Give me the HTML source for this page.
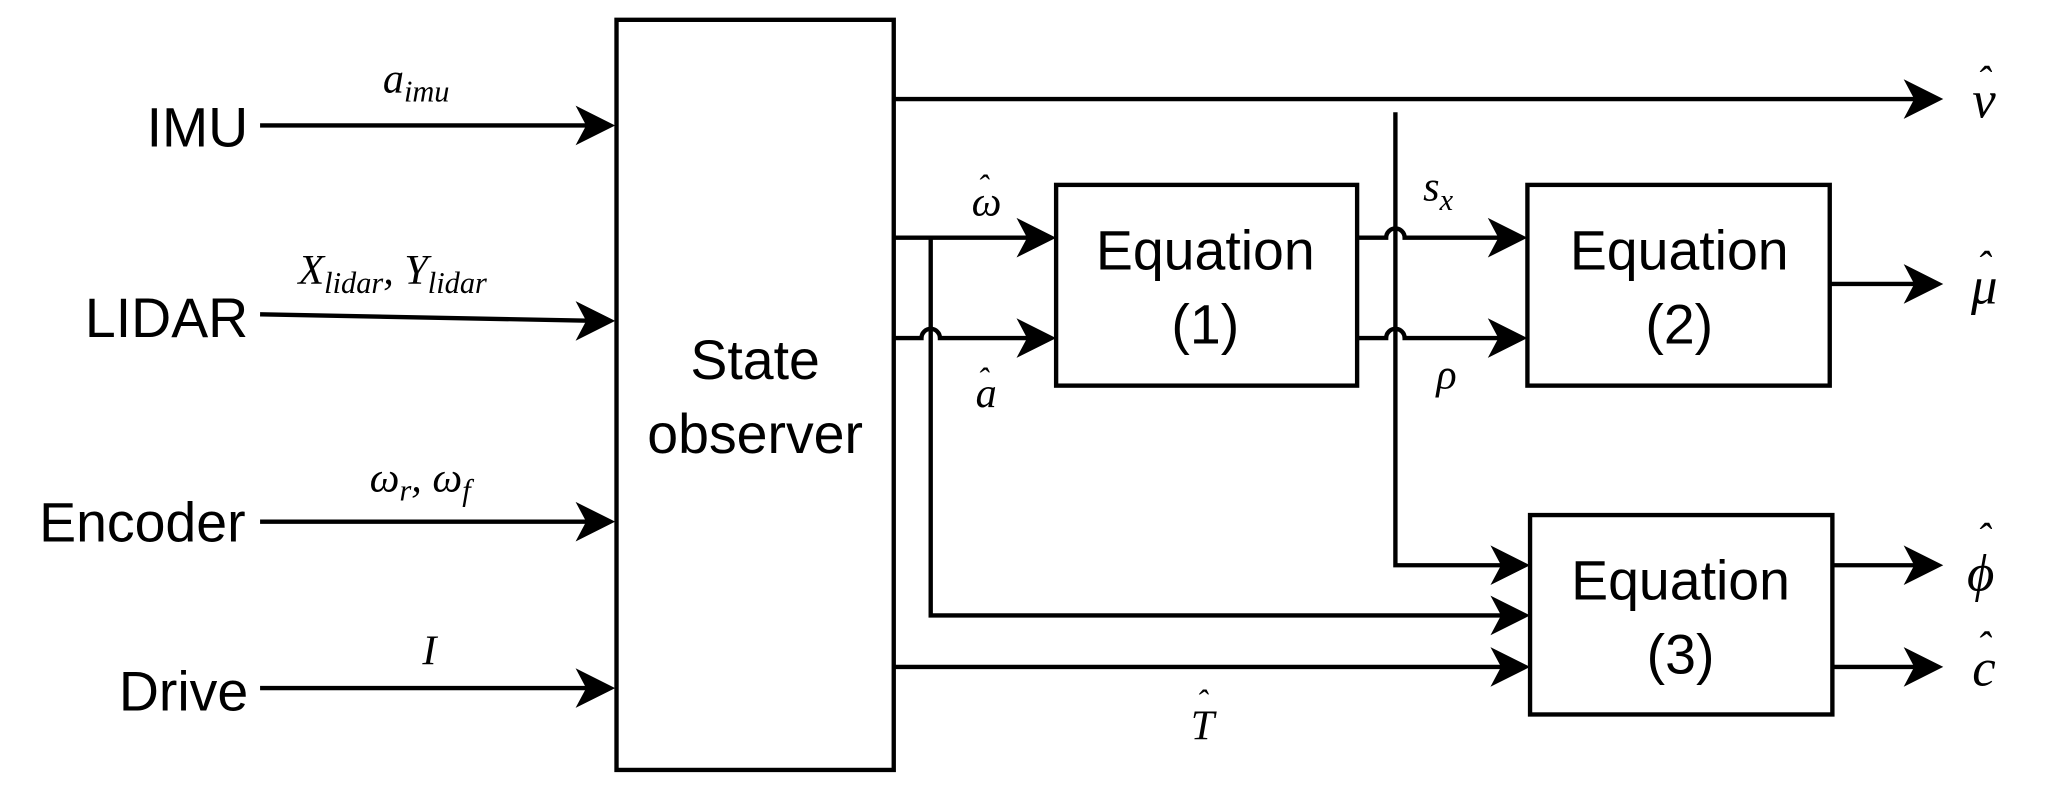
<!DOCTYPE html>
<html><head><meta charset="utf-8"><style>
html,body{margin:0;padding:0;background:#fff;}
svg{display:block;}
.s{font-family:"Liberation Sans",sans-serif;fill:#000;}
.m{font-family:"Liberation Serif",serif;font-style:italic;fill:#000;}
.h{font-family:"Liberation Serif",serif;fill:#000;}
</style></head><body>
<svg width="2070" height="799" viewBox="0 0 1568 605" preserveAspectRatio="none" xmlns="http://www.w3.org/2000/svg">
<defs>
<path id="ah" d="M0,0 L-30,-15 L-22,0 L-30,15 Z" fill="#000"/>
</defs>
<g fill="none" stroke="#000" stroke-width="3.3">
<rect x="467" y="15" width="210" height="568"/>
<rect x="800" y="140" width="228" height="152"/>
<rect x="1157" y="140" width="229" height="152"/>
<rect x="1159" y="390" width="229" height="151"/>
<path d="M197,95 H455"/>
<path d="M197,238 L455,243"/>
<path d="M197,395 H455"/>
<path d="M197,521 H455"/>
<path d="M677,75 H1460"/>
<path d="M677,180 H790"/>
<path d="M677,256 H698 A7,7 0 0 1 712,256 H790"/>
<path d="M705,180 V466 H1148"/>
<path d="M677,505 H1148"/>
<path d="M1057,85 V428 H1148"/>
<path d="M1028,180 H1050 A7,7 0 0 1 1064,180 H1148"/>
<path d="M1028,256 H1050 A7,7 0 0 1 1064,256 H1148"/>
<path d="M1386,215 H1460"/>
<path d="M1388,428 H1460"/>
<path d="M1388,505 H1460"/>
</g>
<use href="#ah" x="466" y="95"/>
<use href="#ah" x="466" y="243"/>
<use href="#ah" x="466" y="395"/>
<use href="#ah" x="466" y="521"/>
<use href="#ah" x="1472" y="75"/>
<use href="#ah" x="800" y="180"/>
<use href="#ah" x="800" y="256"/>
<use href="#ah" x="1157" y="180"/>
<use href="#ah" x="1157" y="256"/>
<use href="#ah" x="1472" y="215"/>
<use href="#ah" x="1159" y="428"/>
<use href="#ah" x="1159" y="466"/>
<use href="#ah" x="1159" y="505"/>
<use href="#ah" x="1472" y="428"/>
<use href="#ah" x="1472" y="505"/>

<g class="s" font-size="42" text-anchor="end">
<text x="188" y="111">IMU</text>
<text x="188" y="255">LIDAR</text>
<text x="186" y="410">Encoder</text>
<text x="188" y="538">Drive</text>
</g>
<g class="s" font-size="42" text-anchor="middle">
<text x="572" y="287">State</text>
<text x="572" y="343">observer</text>
<text x="913" y="204">Equation</text>
<text x="913" y="260">(1)</text>
<text x="1272" y="204">Equation</text>
<text x="1272" y="260">(2)</text>
<text x="1273" y="454">Equation</text>
<text x="1273" y="510">(3)</text>
</g>
<g class="m" font-size="32">
<text x="290" y="70">a<tspan font-size="23" dy="7">imu</tspan></text>
<text x="226" y="215">X<tspan font-size="23" dy="7">lidar</tspan><tspan dy="-7">, Y</tspan><tspan font-size="23" dy="7">lidar</tspan></text>
<text x="280" y="372">ω<tspan font-size="23" dy="7">r</tspan><tspan dy="-7">, ω</tspan><tspan font-size="23" dy="7">f</tspan></text>
<text x="320" y="503">I</text>
<text x="736" y="163">ω</text><text x="740" y="150" class="h" font-size="26">ˆ</text>
<text x="739" y="308">a</text><text x="740" y="296" class="h" font-size="26">ˆ</text>
<text x="902" y="560">T</text><text x="906" y="540" class="h" font-size="26">ˆ</text>
<text x="1078" y="152">s<tspan font-size="23" dy="7">x</tspan></text>
<text x="1088" y="294">ρ</text>
</g>
<g class="m" font-size="40">
<text x="1494" y="89">v</text><text x="1497" y="72" class="h" font-size="32">ˆ</text>
<text x="1493" y="230">μ</text><text x="1497" y="212" class="h" font-size="32">ˆ</text>
<text x="1490" y="447">ϕ</text><text x="1497" y="418" class="h" font-size="32">ˆ</text>
<text x="1494" y="519">c</text><text x="1497" y="500" class="h" font-size="32">ˆ</text>
</g>
</svg>
</body></html>
